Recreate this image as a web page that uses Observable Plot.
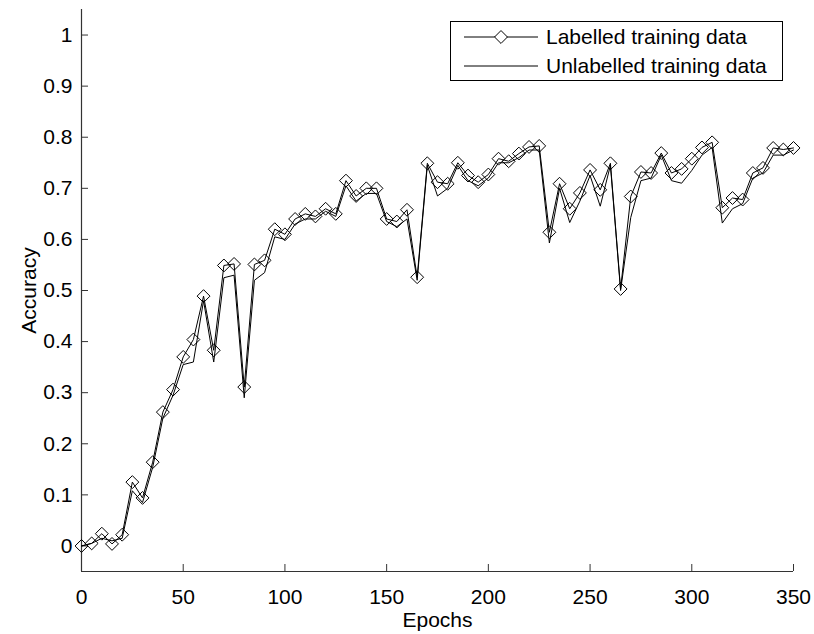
<!DOCTYPE html>
<html>
<head>
<meta charset="utf-8">
<script src="https://cdn.jsdelivr.net/npm/d3@7"></script>
<script src="https://cdn.jsdelivr.net/npm/@observablehq/plot@0.6"></script>
<style>
  html, body { margin: 0; padding: 0; background: #fff; }
  #wrap { position: relative; width: 814px; height: 634px; font-family: "Liberation Sans", Arial, Helvetica, sans-serif; }
  #legend { position: absolute; left: 450px; top: 21px; width: 333px; height: 60px; border: 1px solid #000; background: #fff; box-sizing: border-box; }
  #legend .row { position: absolute; left: 0; height: 28px; display: flex; align-items: center; font-size: 21px; color: #000; }
  #legend svg { margin-left: 13px; margin-right: 8px; }
</style>
</head>
<body>
<div id="wrap">
  <div id="chart"></div>
  <div id="legend"></div>
</div>
<script>
const epochs = [0,5,10,15,20,25,30,35,40,45,50,55,60,65,70,75,80,85,90,95,100,105,110,115,120,125,130,135,140,145,150,155,160,165,170,175,180,185,190,195,200,205,210,215,220,225,230,235,240,245,250,255,260,265,270,275,280,285,290,295,300,305,310,315,320,325,330,335,340,345,350];
const labelled = [0.000,0.005,0.024,0.004,0.022,0.125,0.094,0.164,0.262,0.306,0.370,0.404,0.489,0.383,0.549,0.552,0.311,0.551,0.559,0.620,0.610,0.640,0.650,0.645,0.660,0.650,0.715,0.685,0.700,0.700,0.640,0.635,0.658,0.526,0.749,0.712,0.709,0.750,0.725,0.712,0.727,0.758,0.753,0.768,0.781,0.783,0.614,0.709,0.660,0.691,0.736,0.697,0.749,0.503,0.684,0.732,0.730,0.769,0.730,0.738,0.758,0.780,0.790,0.662,0.681,0.678,0.730,0.740,0.779,0.776,0.779];
const unlabelled = [0.000,0.005,0.015,0.010,0.015,0.108,0.085,0.154,0.250,0.295,0.355,0.360,0.480,0.360,0.525,0.530,0.290,0.520,0.535,0.605,0.600,0.630,0.640,0.640,0.655,0.645,0.705,0.675,0.690,0.690,0.635,0.625,0.640,0.520,0.745,0.685,0.700,0.745,0.715,0.705,0.720,0.750,0.750,0.760,0.775,0.775,0.593,0.700,0.633,0.675,0.725,0.665,0.745,0.500,0.643,0.715,0.720,0.765,0.715,0.710,0.735,0.765,0.780,0.632,0.660,0.670,0.720,0.730,0.765,0.765,0.775];
const xTicks = [0,50,100,150,200,250,300,350];
const yTicks = [0,0.1,0.2,0.3,0.4,0.5,0.6,0.7,0.8,0.9,1];
const yTickLabels = ["0","0.1","0.2","0.3","0.4","0.5","0.6","0.7","0.8","0.9","1"];
const xDomain = [0, 350];
const yDomain = [-0.05, 1.05];
const seriesNames = ["Labelled training data", "Unlabelled training data"];

const lab = epochs.map((e, i) => ({epoch: e, acc: labelled[i]}));
const unl = epochs.map((e, i) => ({epoch: e, acc: unlabelled[i]}));

const font = '"Liberation Sans", Arial, Helvetica, sans-serif';
const axisColor = "#333";

const chart = Plot.plot({
  width: 814,
  height: 634,
  marginLeft: 81,
  marginRight: 21,
  marginTop: 9,
  marginBottom: 63,
  style: {fontFamily: font, fontSize: "21px", color: "#000", background: "#fff"},
  x: {domain: xDomain},
  y: {domain: yDomain},
  marks: [
    Plot.ruleX([xDomain[0]], {stroke: axisColor, strokeWidth: 1.2}),
    Plot.ruleY([yDomain[0]], {stroke: axisColor, strokeWidth: 1.2}),
    Plot.axisX({ticks: xTicks, tickSize: -7, tickPadding: 25, stroke: axisColor, label: "Epochs", labelAnchor: "center", labelOffset: 55, labelArrow: "none", fontSize: 21}),
    Plot.axisY({ticks: yTicks, tickFormat: (d) => yTickLabels[yTicks.indexOf(d)], tickSize: -7, tickPadding: 16, stroke: axisColor, label: "Accuracy", labelAnchor: "center", labelOffset: 60, labelArrow: "none", fontSize: 21}),
    Plot.line(unl, {x: "epoch", y: "acc", stroke: "#000", strokeWidth: 1}),
    Plot.line(lab, {x: "epoch", y: "acc", stroke: "#000", strokeWidth: 1}),
    Plot.dot(lab, {x: "epoch", y: "acc", symbol: "diamond2", r: 5.8, stroke: "#000", fill: "none", strokeWidth: 1})
  ]
});
document.getElementById("chart").appendChild(chart);

// legend
const legend = document.getElementById("legend");
seriesNames.forEach((name, i) => {
  const row = document.createElement("div");
  row.className = "row";
  row.style.top = (i === 0 ? 1 : 30) + "px";
  const svg = d3.create("svg").attr("width", 74).attr("height", 20);
  svg.append("line").attr("x1", 0).attr("x2", 74).attr("y1", 10).attr("y2", 10).attr("stroke", "#000").attr("stroke-width", 1);
  if (i === 0) {
    svg.append("path").attr("transform", "translate(37,10)").attr("d", d3.symbol(d3.symbolDiamond2, Math.PI * 5.8 * 5.8)()).attr("fill", "#fff").attr("stroke", "#000");
  }
  row.appendChild(svg.node());
  const span = document.createElement("span");
  span.textContent = name;
  row.appendChild(span);
  legend.appendChild(row);
});
</script>
</body>
</html>
